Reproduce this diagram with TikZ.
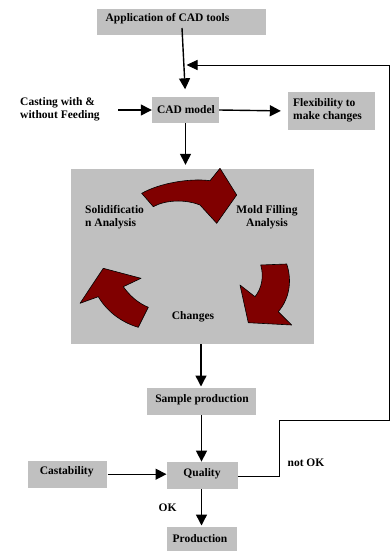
\documentclass[tikz,border=0pt]{standalone}
\usepackage{fontspec}
\setmainfont{Liberation Serif}
\usetikzlibrary{arrows.meta,calc}
\definecolor{boxgray}{HTML}{C0C0C0}
\definecolor{arrowred}{HTML}{800000}
\tikzset{
  box/.style={fill=boxgray, draw=none, inner sep=0pt, anchor=center},
  txt/.style={font=\fontsize{11.5}{13}\selectfont\bfseries, inner sep=0pt, align=center},
  conn/.style={line width=1.4pt, -{Triangle[length=11pt,width=11pt]}},
  fback/.style={line width=1pt, -{Triangle[length=11pt,width=10pt]}},
  cyc/.style={fill=arrowred, draw=black, line width=0.6pt, line join=round}
}
\begin{document}
\begin{tikzpicture}[x=1pt,y=-1pt]
\useasboundingbox (0,0) rectangle (390,551);
% boxes
\node[box, minimum width=169pt, minimum height=26pt] (app) at (181.5,22) {};
\node[txt] (apptxt) at (167.5,18.5) {Application of CAD tools};
\node[box, minimum width=67pt, minimum height=26pt] (cad) at (185.5,110) {};
\node[txt] (cadtxt) at (186,110) {CAD model};
\node[box, minimum width=87pt, minimum height=38pt] (flex) at (331.5,111) {};
\node[txt, align=left, anchor=west] (flextxt) at (293,110) {Flexibility to\\make changes};
\node[box, minimum width=243pt, minimum height=175pt] (big) at (192.5,256.5) {};
\node[box, minimum width=109pt, minimum height=27pt] (sample) at (201.3,401.7) {};
\node[txt] (sampletxt) at (202,400) {Sample production};
\node[box, minimum width=71pt, minimum height=27pt] (quality) at (202.2,475.3) {};
\node[txt] (qualitytxt) at (202,473.5) {Quality};
\node[box, minimum width=79pt, minimum height=27pt] (cast) at (67.8,474.2) {};
\node[txt] (casttxt) at (66.7,472) {Castability};
\node[box, minimum width=70pt, minimum height=24pt] (prod) at (201.7,538.7) {};
\node[txt] (prodtxt) at (200,538.3) {Production};
% free texts
\node[txt, align=left, anchor=west] (casting) at (20,109) {Casting with \&\\without Feeding};
\node[txt] (ok) at (167.5,507.7) {OK};
\node[txt] (notok) at (306,462.7) {not OK};
% cycle texts
\node[txt, align=left, anchor=west] (solid) at (85,216.7) {Solidificatio\\n Analysis};
\node[txt] (mold) at (267,217.5) {Mold Filling\\Analysis};
\node[txt] (changes) at (193,316.7) {Changes};
% cycle arrows
\fill[cyc] (141.7,193.3) .. controls (160,183) and (190,178) .. (210,180.7)
  -- (220,168.3) -- (236.7,195) -- (216.7,223.3) -- (200,205)
  .. controls (185,199) and (165,200) .. (153.3,206.7) -- cycle;
\fill[cyc] (260.7,265) -- (286.7,264) .. controls (292,280) and (290,298) .. (278.3,311.7)
  -- (291.7,325) -- (248.3,322.7) -- (240,285) -- (255,296.7)
  .. controls (262,288) and (264,276) .. (260.7,265) -- cycle;
\fill[cyc] (103.3,268.3) -- (141,278.3) -- (123.3,286.7)
  .. controls (130,296) and (138,303) .. (148.3,307.3) -- (138.3,327.3)
  .. controls (120,322) and (106,310) .. (98.3,296.7) -- (80,303.3) -- cycle;
% connectors
\coordinate (a1) at (182,28);
\coordinate (c1) at (118,110);
\coordinate (f1) at (279.3,476);
\coordinate (f2) at (279.3,420);
\coordinate (f3) at (389,420);
\coordinate (f4) at (389,65);
\coordinate (fend) at (186.5,65);
\draw[conn, shorten >=7.5pt] (a1) -- (cad.north);
\draw[conn] (c1) -- (cad.west);
\draw[conn, shorten >=7pt] (cad.east) -- (flex.west);
\draw[conn, shorten >=4pt] (cad.south) -- (big.north -| cad.south);
\draw[conn, shorten >=1.5pt] (big.south -| 201,0) -- (sample.north -| 201,0);
\draw[conn] (sample.south -| 201.5,0) -- (quality.north -| 201.5,0);
\draw[conn] (cast.east) -- (quality.west |- cast.east);
\draw[conn, shorten >=1pt] (quality.south -| 201.5,0) -- (prod.north -| 201.5,0);
\draw[fback] (quality.east |- f1) -- (f1) -- (f2) -- (f3) -- (f4) -- (fend);
\end{tikzpicture}
\end{document}
